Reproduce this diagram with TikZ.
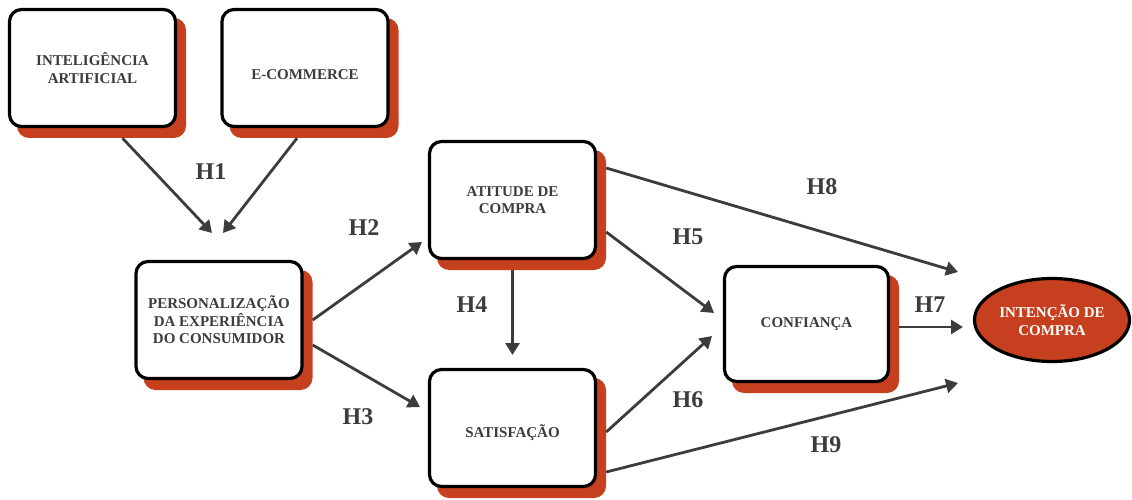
\documentclass[tikz,border=0pt]{standalone}
\usepackage{fontspec}
\setmainfont{Liberation Serif}
\usetikzlibrary{arrows.meta,shapes.geometric}
\definecolor{brick}{RGB}{198,64,32}
\definecolor{ink}{RGB}{60,60,60}
\begin{document}
\begin{tikzpicture}[x=1pt,y=-1pt,
  box/.style={draw=black, line width=3.2pt, rounded corners=12pt, fill=white,
    minimum width=166pt, minimum height=117pt, inner sep=2pt, align=center,
    text=ink, font=\fontsize{15}{17.5}\selectfont\bfseries},
  backing/.style={fill=brick, rounded corners=12pt, minimum width=169pt,
    minimum height=120pt, inner sep=0pt},
  arr/.style={draw=ink, line width=2.8pt, -{Triangle[length=12pt,width=14pt]}},
  hyp/.style={text=ink, font=\fontsize{24}{24}\selectfont\bfseries, inner sep=0pt}]
\useasboundingbox (0,0) rectangle (1132,500);

% offset backings (drawn first, behind the boxes)
\node[backing] (ia-s)   at (101.5,78)  {};
\node[backing] (ec-s)   at (314,78)    {};
\node[backing] (pers-s) at (228,330)   {};
\node[backing] (att-s)  at (521.5,210) {};
\node[backing] (sat-s)  at (521.5,438) {};
\node[backing, minimum width=167pt, minimum height=118pt] (conf-s) at (815.5,334) {};

% constructs
\node[box] (ia)   at (92.5,68)  {INTELIGÊNCIA\\ARTIFICIAL};
\node[box] (ec)   at (305,68)   {\raisebox{-12pt}[0pt][0pt]{E-COMMERCE}};
\node[box] (pers) at (219,320)  {PERSONALIZAÇÃO\\DA EXPERIÊNCIA\\DO CONSUMIDOR};
\node[box] (att)  at (512.5,200) {ATITUDE DE\\COMPRA};
\node[box] (sat)  at (512.5,428) {\raisebox{-9pt}[0pt][0pt]{SATISFAÇÃO}};
\node[box, minimum width=164pt, minimum height=115pt] (conf) at (806.5,324) {CONFIANÇA};
\node[ellipse, draw=black, line width=3.2pt, fill=brick, minimum width=155pt,
  minimum height=83pt, inner sep=0pt, align=center, text=white,
  font=\fontsize{15}{17.5}\selectfont\bfseries] (int) at (1052,320) {INTENÇÃO DE\\COMPRA};

% free arrow ends
\coordinate (h1a) at (212,233);
\coordinate (h1b) at (223,233);
\coordinate (h2e) at (422,242);
\coordinate (h3e) at (420,407);
\coordinate (h4e) at (512.5,355);
\coordinate (h5e) at (714,313);
\coordinate (h6e) at (712,336);
\coordinate (h7e) at (963,327);
\coordinate (h8e) at (958,272);
\coordinate (h9e) at (958,383);

% hypothesised paths
\draw[arr] ([xshift=21pt]ia-s.south) -- (h1a);
\draw[arr] ([xshift=-17pt]ec-s.south) -- (h1b);
\draw[arr] ([yshift=10pt]pers-s.east) -- (h2e);
\draw[arr] ([yshift=-15pt]pers-s.east) -- (h3e);
\draw[arr] ([yshift=-10pt]att.south) -- (h4e);
\draw[arr] ([yshift=-22pt]att-s.east) -- (h5e);
\draw[arr] ([yshift=6pt]sat-s.east) -- (h6e);
\draw[arr] ([yshift=7pt]conf-s.east) -- (h7e);
\draw[arr] ([yshift=42pt]att-s.east) -- (h8e);
\draw[arr] ([yshift=-34pt]sat-s.east) -- (h9e);

% hypothesis labels
\node[hyp] (lh1) at (211,172) {H1};
\node[hyp] (lh2) at (364,228) {H2};
\node[hyp] (lh3) at (358,417) {H3};
\node[hyp] (lh4) at (472,305) {H4};
\node[hyp] (lh5) at (688,237) {H5};
\node[hyp] (lh6) at (688,400) {H6};
\node[hyp] (lh7) at (930,305) {H7};
\node[hyp] (lh8) at (822,187) {H8};
\node[hyp] (lh9) at (826,445) {H9};
\end{tikzpicture}
\end{document}
